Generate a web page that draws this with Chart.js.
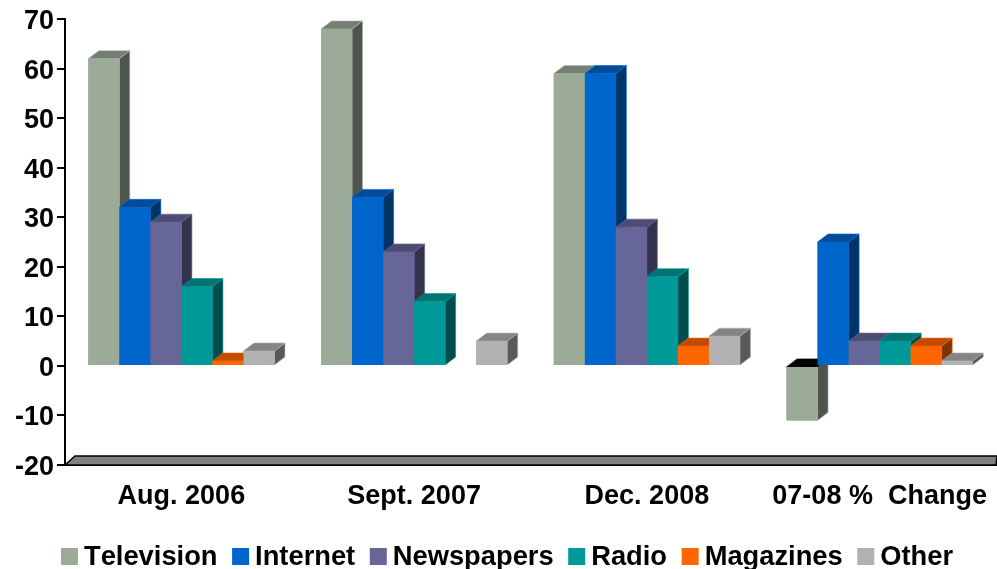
<!DOCTYPE html>
<html lang="en">
<head>
    <meta charset="UTF-8">
    <title>Media usage</title>
    <script src="https://cdn.jsdelivr.net/npm/chart.js"></script>
    <style>
        body { margin: 0; background: #fff; }
        canvas { display: block; }
    </style>
</head>
<body>
    <canvas id="chart" width="997" height="569"></canvas>

    <script>
        const categories = ['Aug. 2006', 'Sept. 2007', 'Dec. 2008', '07-08 %  Change'];

        const television = [62, 68, 59, -11];
        const internet = [32, 34, 59, 25];
        const newspapers = [29, 23, 28, 5];
        const radio = [16, 13, 18, 5];
        const magazines = [1, null, 4, 4];
        const other = [3, 5, 6, 1];

        const seriesNames = ['Television', 'Internet', 'Newspapers', 'Radio', 'Magazines', 'Other'];
        const seriesValues = [television, internet, newspapers, radio, magazines, other];

        const frontColors = ['#9CAB98', '#0066CC', '#666699', '#009999', '#FF6600', '#B2B2B2'];
        const topColors = ['#757F71', '#004C99', '#4D4D73', '#007373', '#BF4C00', '#858585'];
        const sideColors = ['#4E554C', '#003366', '#33334D', '#004D4D', '#803300', '#595959'];

        const font = 'bold 27.3px "Liberation Sans", Arial, sans-serif';
        const depthX = 10.5;
        const depthY = 8;

        function face(ctx, points, fill, edge) {
            ctx.beginPath();
            points.forEach((p, i) => i ? ctx.lineTo(p[0], p[1]) : ctx.moveTo(p[0], p[1]));
            ctx.closePath();
            ctx.fillStyle = fill;
            ctx.fill();
            ctx.strokeStyle = edge;
            ctx.lineWidth = 0.6;
            ctx.stroke();
        }

        // fake 3D: repaint left to right so each bar covers the side of the one before it
        const bar3d = {
            id: 'bar3d',
            afterDatasetsDraw(chart) {
                const ctx = chart.ctx;
                seriesNames.forEach((name, i) => {
                    chart.getDatasetMeta(i).data.forEach((bar, c) => {
                        const value = seriesValues[i][c];
                        if (value === null) return;
                        const l = bar.x - bar.width / 2;
                        const r = bar.x + bar.width / 2;
                        const top = Math.min(bar.y, bar.base);
                        const bottom = Math.max(bar.y, bar.base);
                        const edge = i === 0 ? '#AEB8C0' : frontColors[i];
                        face(ctx, [[r, top], [r + depthX, top - depthY], [r + depthX, bottom - depthY], [r, bottom]], sideColors[i], edge);
                        face(ctx, [[l, top], [l + depthX, top - depthY], [r + depthX, top - depthY], [r, top]],
                            value < 0 ? '#000000' : topColors[i], value < 0 ? '#000000' : edge);
                        bar.draw(ctx);
                    });
                });
            }
        };

        const floor3d = {
            id: 'floor3d',
            beforeDatasetsDraw(chart) {
                const ctx = chart.ctx;
                const a = chart.chartArea;
                ctx.save();
                ctx.beginPath();
                ctx.moveTo(a.left, a.bottom);
                ctx.lineTo(a.left + 10, a.bottom - 9);
                ctx.lineTo(a.right + 1, a.bottom - 9);
                ctx.lineTo(a.right, a.bottom);
                ctx.closePath();
                ctx.fillStyle = '#808080';
                ctx.fill();
                ctx.strokeStyle = '#000';
                ctx.lineWidth = 1.5;
                ctx.stroke();
                ctx.restore();
            }
        };

        const bottomLegend = {
            id: 'bottomLegend',
            afterDraw(chart) {
                const ctx = chart.ctx;
                ctx.save();
                ctx.font = font;
                ctx.fontKerning = 'none';
                ctx.textBaseline = 'middle';
                let x = 61;
                seriesNames.forEach((name, i) => {
                    ctx.fillStyle = frontColors[i];
                    ctx.fillRect(x, 548, 17, 17);
                    ctx.fillStyle = '#000';
                    ctx.fillText(name, x + 23, 557);
                    x += 23 + ctx.measureText(name).width + 14.6;
                });
                ctx.restore();
            }
        };

        new Chart(document.getElementById('chart').getContext('2d'), {
            type: 'bar',
            data: {
                labels: categories,
                datasets: seriesNames.map((name, i) => ({
                    label: name,
                    data: seriesValues[i],
                    backgroundColor: frontColors[i],
                    borderWidth: 0,
                    categoryPercentage: 0.8,
                    barPercentage: 1
                }))
            },
            plugins: [bar3d, floor3d, bottomLegend],
            options: {
                responsive: false,
                animation: false,
                devicePixelRatio: 1,
                layout: { padding: { top: 19, right: 1, bottom: 0, left: 0 } },
                plugins: {
                    legend: { display: false },
                    tooltip: { enabled: false }
                },
                scales: {
                    x: {
                        afterFit(scale) {
                            scale.height = 104;
                            scale.paddingLeft = 0;
                            scale.paddingRight = 0;
                        },
                        grid: { display: false },
                        border: { color: '#000', width: 2 },
                        ticks: {
                            color: '#000',
                            font: { family: '"Liberation Sans", Arial, sans-serif', size: 27, weight: 'bold' },
                            padding: 7,
                            autoSkip: false,
                            maxRotation: 0
                        }
                    },
                    y: {
                        min: -20,
                        max: 70,
                        afterFit(scale) {
                            scale.width = 65;
                            scale.paddingTop = 0;
                            scale.paddingBottom = 0;
                        },
                        grid: { drawOnChartArea: false, tickLength: 8, color: '#000', lineWidth: 2 },
                        border: { color: '#000', width: 2 },
                        ticks: {
                            stepSize: 10,
                            color: '#000',
                            padding: 3,
                            labelOffset: 2.5,
                            font: { family: '"Liberation Sans", Arial, sans-serif', size: 27, weight: 'bold' }
                        }
                    }
                }
            }
        });
    </script>
</body>
</html>
